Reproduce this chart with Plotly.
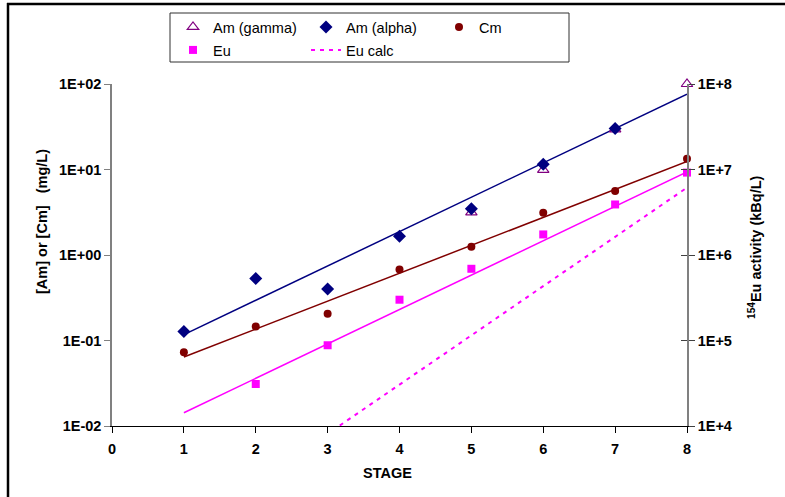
import plotly.graph_objects as go

# ---- data ----
stages = [1, 2, 3, 4, 5, 6, 7, 8]
am_gamma = [None, None, None, None, 3.15, 9.9, 29.5, 100]
am_alpha = [0.127, 0.53, 0.40, 1.66, 3.48, 11.5, 30.2, None]
cm = [0.073, 0.146, 0.206, 0.676, 1.25, 3.13, 5.6, 13.4]
eu = [None, 3.1e4, 8.8e4, 3.0e5, 6.9e5, 1.74e6, 3.9e6, 9.2e6]        # kBq/L
eu_calc = [570, 2.15e3, 8.1e3, 3.05e4, 1.15e5, 4.33e5, 1.63e6, 6.14e6]  # kBq/L

trend_x = [1, 8]
am_trend = [0.117, 76]
cm_trend = [0.064, 12.4]
eu_trend = [1.43e4, 9.35e6]

left_ticks = [0.01, 0.1, 1, 10, 100]
left_ticktext = ["1E-02", "1E-01", "1E+00", "1E+01", "1E+02"]
right_ticks = [1e4, 1e5, 1e6, 1e7, 1e8]
right_ticktext = ["1E+4", "1E+5", "1E+6", "1E+7", "1E+8"]
x_ticks = [0, 1, 2, 3, 4, 5, 6, 7, 8]

NAVY = "#000080"
DRED = "#800000"
MAG = "#FF00FF"
PURP = "#800080"
FONT = "Liberation Sans, Arial, sans-serif"

fig = go.Figure()

# trend lines
fig.add_trace(go.Scatter(x=trend_x, y=am_trend, mode="lines", line=dict(color=NAVY, width=1.5),
                         showlegend=False, hoverinfo="skip"))
fig.add_trace(go.Scatter(x=trend_x, y=cm_trend, mode="lines", line=dict(color=DRED, width=1.5),
                         showlegend=False, hoverinfo="skip"))

# markers on left axis
fig.add_trace(go.Scatter(x=stages, y=am_gamma, mode="markers", name="Am (gamma)",
                         marker=dict(symbol="triangle-up-open", size=10, color=PURP, line=dict(width=1.2)),
                         cliponaxis=False, legend="legend", legendrank=1))
fig.add_trace(go.Scatter(x=stages, y=am_alpha, mode="markers", name="Am (alpha)",
                         marker=dict(symbol="diamond", size=10, color=NAVY),
                         cliponaxis=False, legend="legend", legendrank=2))
fig.add_trace(go.Scatter(x=stages, y=cm, mode="markers", name="Cm",
                         marker=dict(symbol="circle", size=8, color=DRED),
                         cliponaxis=False, legend="legend", legendrank=3))

# right axis
fig.add_trace(go.Scatter(x=trend_x, y=eu_trend, mode="lines", line=dict(color=MAG, width=1.5),
                         yaxis="y2", showlegend=False, hoverinfo="skip"))
fig.add_trace(go.Scatter(x=stages, y=eu_calc, mode="lines", name="Eu calc",
                         line=dict(color=MAG, width=2, dash="4px,5px"),
                         yaxis="y2", legend="legend2", legendrank=2))
fig.add_trace(go.Scatter(x=stages, y=eu, mode="markers", name="Eu",
                         marker=dict(symbol="square", size=8, color=MAG),
                         yaxis="y2", cliponaxis=False, legend="legend2", legendrank=1))

# dummy trace to activate the tick-only overlay axis y3
fig.add_trace(go.Scatter(x=[None], y=[None], yaxis="y3", showlegend=False, hoverinfo="skip"))

L, R, T, B = 112, 98, 84, 71
W, H = 785, 497
PW, PH = W - L - R, H - T - B


def px(xp):
    return (xp - L) / PW


def py(yp):
    return (H - B - yp) / PH


tickfont = dict(family=FONT, size=14.5, color="black", weight="bold")
titlefont = dict(family=FONT, size=14.5, color="black", weight="bold")

fig.update_layout(
    width=W, height=H,
    margin=dict(l=L, r=R, t=T, b=B, autoexpand=False),
    paper_bgcolor="white", plot_bgcolor="white",
    font=dict(family=FONT, color="black"),
    xaxis=dict(range=[0, 8], tickvals=x_ticks, ticks="outside", ticklen=6, tickcolor="black",
               ticklabelstandoff=4,
               showline=True, linecolor="black", linewidth=1, showgrid=False, zeroline=False,
               tickfont=tickfont),
    yaxis=dict(type="log", range=[-2, 2], tickvals=left_ticks, ticktext=left_ticktext,
               ticks="outside", ticklen=6, tickcolor="#808080",
               showline=True, linecolor="#808080", linewidth=1.5, showgrid=False, zeroline=False,
               tickfont=tickfont),
    yaxis2=dict(type="log", range=[4, 8], tickvals=right_ticks, ticktext=right_ticktext,
                overlaying="y", side="right", anchor="x",
                ticks="outside", ticklen=6, tickcolor="#404040",
                showline=True, linecolor="#808080", linewidth=1.5, showgrid=False, zeroline=False,
                tickfont=tickfont),
    yaxis3=dict(type="log", range=[4, 8], tickvals=right_ticks, overlaying="y", side="right",
                anchor="x", ticks="inside", ticklen=6, tickcolor="#404040", showticklabels=False,
                showline=False, showgrid=False, zeroline=False),
    legend=dict(orientation="h", x=px(173), xanchor="left", y=py(27), yanchor="middle",
                entrywidth=88, bgcolor="rgba(0,0,0,0)", borderwidth=0,
                font=dict(family=FONT, size=14.5, color="black"), itemclick=False),
    legend2=dict(orientation="h", x=px(173), xanchor="left", y=py(50), yanchor="middle",
                 entrywidth=88, bgcolor="rgba(0,0,0,0)", borderwidth=0,
                 font=dict(family=FONT, size=14.5, color="black"), itemclick=False),
    annotations=[
        dict(text="STAGE", xref="paper", yref="paper", x=px(387), y=py(473),
             showarrow=False, font=titlefont, xanchor="center", yanchor="middle"),
        dict(text="[Am] or [Cm]   (mg/L)", xref="paper", yref="paper", x=px(42), y=py(222),
             showarrow=False, textangle=-90, font=titlefont, xanchor="center", yanchor="middle"),
        dict(text="<sup>154</sup>Eu activity (kBq/L)", xref="paper", yref="paper", x=px(755), y=py(247),
             showarrow=False, textangle=-90, font=titlefont, xanchor="center", yanchor="middle"),
    ],
    shapes=[
        dict(type="rect", xref="paper", yref="paper", x0=px(170), x1=px(569), y0=py(62), y1=py(13),
             line=dict(color="#303030", width=1), layer="below"),
        dict(type="line", xref="paper", yref="paper", x0=px(8), x1=px(8), y0=py(H + 5), y1=py(3),
             line=dict(color="black", width=2.5)),
        dict(type="line", xref="paper", yref="paper", x0=px(7), x1=px(W + 5), y0=py(4), y1=py(4),
             line=dict(color="black", width=2.5)),
    ],
)

fig.write_html("out.html", config={"displayModeBar": False},
               post_script="document.body.style.margin='0';")
